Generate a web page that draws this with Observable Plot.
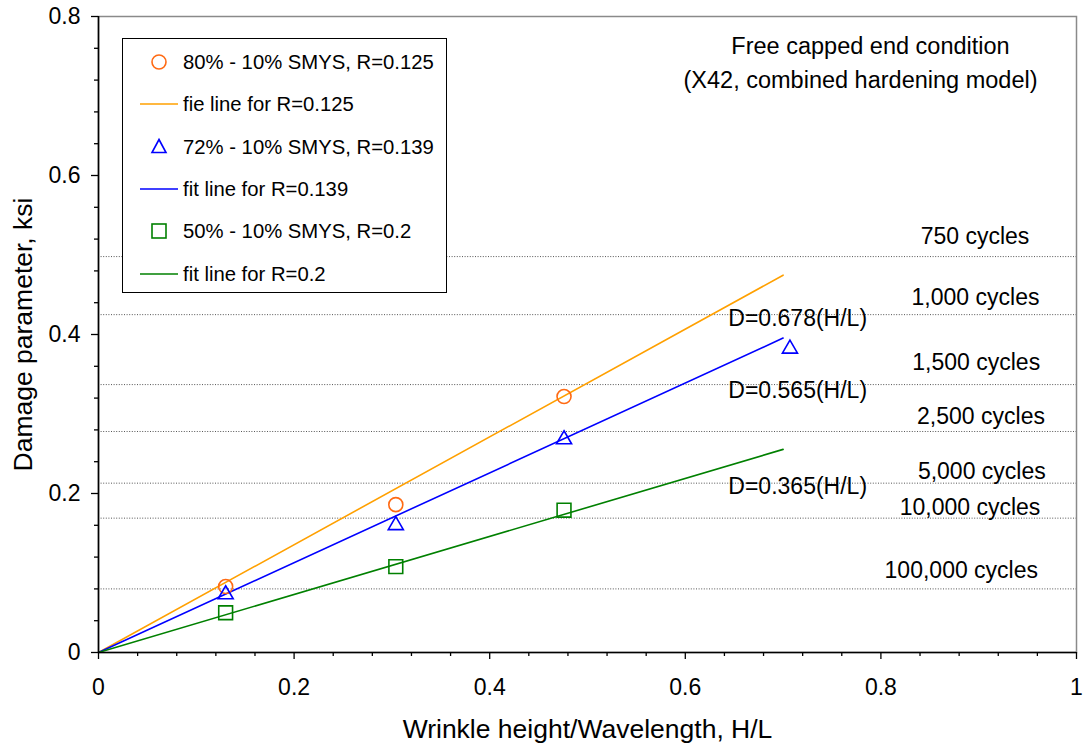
<!DOCTYPE html>
<html>
<head>
<meta charset="utf-8">
<script src="https://cdn.jsdelivr.net/npm/d3@7"></script>
<script src="https://cdn.jsdelivr.net/npm/@observablehq/plot@0.6"></script>
<style>
  html, body { margin: 0; padding: 0; background: white; }
  #wrap { position: relative; width: 1086px; height: 749px; font-family: "Liberation Sans", Arial, sans-serif; }
  #legend { position: absolute; left: 122px; top: 38px; width: 323px; height: 253px; border: 1.5px solid #000; background: white; }
  #legend .row { position: absolute; left: 0; height: 24px; display: flex; align-items: center; }
  #legend svg { position: absolute; left: 0; top: 0; }
  #legend span { position: absolute; left: 60px; white-space: nowrap; font-size: 20.3px; color: #000; line-height: 24px; }
</style>
</head>
<body>
<div id="wrap"></div>
<script>
// ---------- data ----------
const seriesNames = ["80% - 10% SMYS, R=0.125", "72% - 10% SMYS, R=0.139", "50% - 10% SMYS, R=0.2"];
const fitNames = ["fie line for R=0.125", "fit line for R=0.139", "fit line for R=0.2"];

const hl80 = [0.130, 0.304, 0.476];
const d80  = [0.083, 0.186, 0.322];
const hl72 = [0.130, 0.304, 0.476, 0.707];
const d72  = [0.073, 0.160, 0.268, 0.382];
const hl50 = [0.130, 0.304, 0.476];
const d50  = [0.050, 0.108, 0.179];

const fitSlopes = [0.678, 0.565, 0.365];
const fitLabels = ["D=0.678(H/L)", "D=0.565(H/L)", "D=0.365(H/L)"];
const fitHL = [0, 0.7];

const cycleLabels = ["750 cycles", "1,000 cycles", "1,500 cycles", "2,500 cycles", "5,000 cycles", "10,000 cycles", "100,000 cycles"];
const cycleD = [0.498, 0.425, 0.337, 0.278, 0.213, 0.169, 0.080];

const xTicks = [0, 0.2, 0.4, 0.6, 0.8, 1];
const xTickLabels = ["0", "0.2", "0.4", "0.6", "0.8", "1"];
const yTicks = [0, 0.2, 0.4, 0.6, 0.8];
const yTickLabels = ["0", "0.2", "0.4", "0.6", "0.8"];
const xMinor = [0.04, 0.08, 0.12, 0.16, 0.24, 0.28, 0.32, 0.36, 0.44, 0.48, 0.52, 0.56, 0.64, 0.68, 0.72, 0.76, 0.84, 0.88, 0.92, 0.96];
const yMinor = [0.04, 0.08, 0.12, 0.16, 0.24, 0.28, 0.32, 0.36, 0.44, 0.48, 0.52, 0.56, 0.64, 0.68, 0.72, 0.76];

const titleLines = ["Free capped end condition", "(X42, combined hardening model)"];
const xLabel = "Wrinkle height/Wavelength, H/L";
const yLabel = "Damage parameter, ksi";

// ---------- layout / style (not data) ----------
const colors = { circle: "#FF6A13", fit80: "#FFA000", blue: "#0000FF", green: "#008000" };
const seriesStyle = [
  { symbol: "circle", color: colors.circle, line: colors.fit80, r: 7 },
  { symbol: "triangle", color: colors.blue, line: colors.blue, r: 5.6 },
  { symbol: "square", color: colors.green, line: colors.green, r: 7.8 }
];
const cycleLabelX = 0.9;
const cycleNudge = [[-3.7, -19.8], [-3.2, -16.6], [-2.5, -22], [2.3, -15], [3.1, -11.7], [-8.7, -11], [-17.4, -18.4]];
const fitLabelX = 0.644;
const fitNudge = [13, 27, 21];
const FONT = "'Liberation Sans', Arial, sans-serif";

const pts = [
  hl80.map((x, i) => ({ x, y: d80[i] })),
  hl72.map((x, i) => ({ x, y: d72[i] })),
  hl50.map((x, i) => ({ x, y: d50[i] }))
];

const marks = [
  Plot.frame({ stroke: "#8a8a8a", strokeWidth: 1.5 }),
  Plot.ruleY(cycleD, { stroke: "#555", strokeWidth: 1, strokeDasharray: "1,1.6" }),
  ...cycleLabels.map((lab, i) => Plot.text([lab], {
    x: () => cycleLabelX, y: () => cycleD[i], text: d => d,
    dx: cycleNudge[i][0], dy: cycleNudge[i][1], fontSize: 23, fill: "#000"
  })),
  ...fitSlopes.map((s, i) => Plot.line(fitHL, {
    x: d => d, y: d => s * d, stroke: seriesStyle[i].line, strokeWidth: 1.6
  })),
  ...pts.map((p, i) => Plot.dot(p, {
    x: "x", y: "y", symbol: seriesStyle[i].symbol, r: seriesStyle[i].r,
    stroke: seriesStyle[i].color, strokeWidth: 1.6, fill: "none"
  })),
  ...fitSlopes.map((s, i) => Plot.text([fitLabels[i]], {
    x: () => fitLabelX, y: () => s * fitLabelX, text: d => d,
    dy: fitNudge[i], textAnchor: "start", fontSize: 23, fill: "#000"
  })),
  Plot.axisY({ ticks: yMinor, tickSize: 4, tickFormat: () => "", label: null, strokeWidth: 1.3 }),
  Plot.axisX({ ticks: xMinor, tickSize: 4, tickFormat: () => "", label: null, strokeWidth: 1.3 }),
  Plot.axisY({ ticks: yTicks, tickSize: 7, tickPadding: 11, tickFormat: (d, i) => yTickLabels[i], label: null, fontSize: 23, strokeWidth: 1.3 }),
  Plot.axisX({ ticks: xTicks, tickSize: 7, tickPadding: 19, tickFormat: (d, i) => xTickLabels[i], label: null, fontSize: 23, strokeWidth: 1.3 }),
  Plot.ruleX([0], { stroke: "#000", strokeWidth: 1.6 }),
  Plot.ruleY([0], { stroke: "#000", strokeWidth: 1.6 }),
  Plot.text([xLabel], { frameAnchor: "bottom", textAnchor: "middle", lineAnchor: "middle", dy: 77, fontSize: 26.5, fill: "#000" }),
  Plot.text([yLabel], { frameAnchor: "left", textAnchor: "middle", lineAnchor: "middle", rotate: -90, dx: -75, fontSize: 26.5, fill: "#000" }),
  Plot.text([titleLines[0]], { frameAnchor: "top", textAnchor: "middle", lineAnchor: "middle", dx: 283, dy: 30, fontSize: 23.5, fill: "#000" }),
  Plot.text([titleLines[1]], { frameAnchor: "top", textAnchor: "middle", lineAnchor: "middle", dx: 273, dy: 64, fontSize: 23.5, fill: "#000" })
];

const chart = Plot.plot({
  width: 1086, height: 749,
  marginTop: 16, marginRight: 10, marginBottom: 97, marginLeft: 98,
  x: { domain: [0, 1] },
  y: { domain: [0, 0.8] },
  style: { fontFamily: FONT, color: "#000", background: "white", overflow: "visible" },
  marks
});
const wrap = document.getElementById("wrap");
wrap.appendChild(chart);

// ---------- legend (HTML overlay) ----------
const legend = document.createElement("div");
legend.id = "legend";
const rowsY = [23, 65, 108, 150, 192, 235];
const symSvg = (st) => {
  const c = st.color;
  if (st.symbol === "circle") return `<circle cx="36" cy="12" r="7" fill="none" stroke="${c}" stroke-width="1.6"/>`;
  if (st.symbol === "triangle") return `<path d="M36,4.5 L43,17.5 L29,17.5 Z" fill="none" stroke="${c}" stroke-width="1.6"/>`;
  return `<rect x="29" y="5" width="14" height="14" fill="none" stroke="${c}" stroke-width="1.6"/>`;
};
let html = "";
seriesNames.forEach((name, i) => {
  const st = seriesStyle[i];
  html += `<div class="row" style="top:${rowsY[2 * i] - 12}px;width:320px"><svg width="60" height="24">${symSvg(st)}</svg><span>${name}</span></div>`;
  html += `<div class="row" style="top:${rowsY[2 * i + 1] - 12}px;width:320px"><svg width="60" height="24"><line x1="17" x2="55" y1="12" y2="12" stroke="${st.line}" stroke-width="1.6"/></svg><span>${fitNames[i]}</span></div>`;
});
legend.innerHTML = html;
wrap.appendChild(legend);
</script>
</body>
</html>
